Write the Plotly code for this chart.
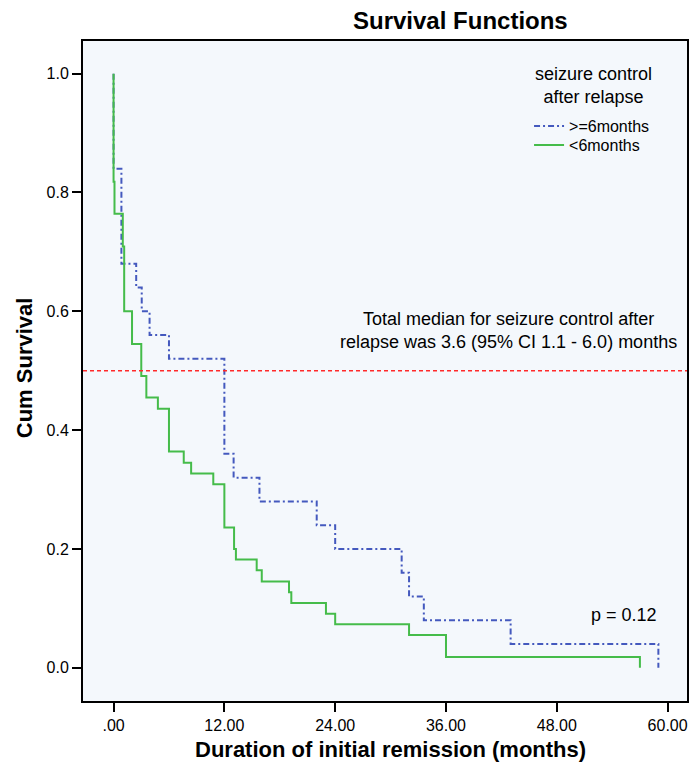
import plotly.graph_objects as go

# ---- data ----
blue_label = ">=6months"
blue_time = [0, 0, 0.85, 2.45, 3.05, 3.9, 6.0, 12.0, 13.0, 15.8, 22.0, 24.0, 31.2, 32.0, 33.6, 43.0, 59.0]
blue_surv = [1.0, 0.84, 0.68, 0.64, 0.60, 0.56, 0.52, 0.36, 0.32, 0.28, 0.24, 0.20, 0.16, 0.12, 0.08, 0.04, 0.0]

green_label = "<6months"
green_time = [0, 0, 0.1, 1.0, 1.15, 2.0, 3.0, 3.55, 4.8, 6.0, 7.6, 8.4, 10.8, 12.0, 13.05, 13.25,
              15.5, 16.05, 19.0, 19.25, 23.0, 24.0, 32.0, 36.0, 57.0]
green_surv = [1.0, 0.818, 0.764, 0.709, 0.600, 0.545, 0.491, 0.455, 0.436, 0.364, 0.345, 0.327,
              0.309, 0.236, 0.200, 0.182, 0.164, 0.145, 0.127, 0.109, 0.091, 0.073, 0.055, 0.018, 0.0]

median_level = 0.5
x_tickvals = [0, 12, 24, 36, 48, 60]
x_ticktext = [".00", "12.00", "24.00", "36.00", "48.00", "60.00"]
y_tickvals = [0.0, 0.2, 0.4, 0.6, 0.8, 1.0]
y_ticktext = ["0.0", "0.2", "0.4", "0.6", "0.8", "1.0"]

FONT = "Arial, 'Liberation Sans', sans-serif"

W, H = 689, 769
L, R, T, B = 82.7, 2, 40.7, 769 - 701.5
PW, PH = W - L - R, H - T - B


def px_x(x):
    """screen x pixel -> paper x"""
    return (x - L) / PW


def px_y(y):
    """screen y pixel -> paper y"""
    return (H - B - y) / PH


fig = go.Figure()
fig.add_trace(go.Scatter(
    x=blue_time, y=blue_surv, mode="lines", line_shape="hv", name=blue_label, legend="legend",
    line=dict(color="#4459BE", width=2, dash="6px,3px,2px,3px"),
))
fig.add_trace(go.Scatter(
    x=green_time, y=green_surv, mode="lines", line_shape="hv", name=green_label, legend="legend2",
    line=dict(color="#45BC4A", width=2),
))

fig.add_shape(type="line", xref="paper", x0=0, x1=1, yref="y", y0=median_level, y1=median_level,
              line=dict(color="#FF2A2A", width=1.5, dash="4px,3px"))

fig.add_annotation(x=42.75, y=0.567, xref="x", yref="y", showarrow=False,
                   xanchor="center", yanchor="middle",
                   text="Total median for seizure control after<br>relapse was 3.6 (95% CI 1.1 - 6.0) months",
                   font=dict(family=FONT, size=18, color="black"), align="center")
fig.add_annotation(x=55.3, y=0.089, xref="x", yref="y", showarrow=False,
                   xanchor="center", yanchor="middle",
                   text="p = 0.12", font=dict(family=FONT, size=18, color="black"))

# legend title
fig.add_annotation(x=px_x(593), y=px_y(85), xref="paper", yref="paper", showarrow=False,
                   xanchor="center", yanchor="middle",
                   text="seizure control<br>after relapse", align="center",
                   font=dict(family=FONT, size=18, color="black"))

# axis titles
fig.add_annotation(x=px_x(390), y=px_y(750), xref="paper", yref="paper", showarrow=False,
                   xanchor="center", yanchor="middle",
                   text="<b>Duration of initial remission (months)</b>",
                   font=dict(family=FONT, size=22, color="black"))
fig.add_annotation(x=px_x(25), y=px_y(368), xref="paper", yref="paper", showarrow=False,
                   xanchor="center", yanchor="middle",
                   text="<b>Cum Survival</b>", textangle=-90,
                   font=dict(family=FONT, size=22, color="black"))
# chart title
fig.add_annotation(x=px_x(460), y=px_y(20), xref="paper", yref="paper", showarrow=False,
                   xanchor="center", yanchor="middle",
                   text="<b>Survival Functions</b>",
                   font=dict(family=FONT, size=24, color="black"))

legend_common = dict(bgcolor="rgba(0,0,0,0)", itemwidth=30, xanchor="center", yanchor="top",
                     font=dict(family=FONT, size=16, color="black"))

fig.update_layout(
    width=W, height=H,
    margin=dict(l=L, r=R, t=T, b=B, autoexpand=False),
    paper_bgcolor="white", plot_bgcolor="#F4F8FC",
    font=dict(family=FONT, color="black"),
    showlegend=True,
    legend=dict(x=px_x(592), y=px_y(109), **legend_common),
    legend2=dict(x=px_x(587), y=px_y(128), **legend_common),
    xaxis=dict(
        range=[-3.31, 62.1], tickvals=x_tickvals, ticktext=x_ticktext, automargin=False,
        showgrid=False, zeroline=False, showline=True, linecolor="black", linewidth=2, mirror=True,
        ticks="outside", ticklen=9, tickwidth=2, tickcolor="black",
        tickfont=dict(family=FONT, size=16, color="black"),
    ),
    yaxis=dict(
        range=[-0.056, 1.055], tickvals=y_tickvals, ticktext=y_ticktext, automargin=False,
        showgrid=False, zeroline=False, showline=True, linecolor="black", linewidth=2, mirror=True,
        ticks="outside", ticklen=9, tickwidth=2, tickcolor="black",
        tickfont=dict(family=FONT, size=16, color="black"),
    ),
)

fig.write_html(
    "out.html",
    config={"displayModeBar": False},
    post_script="document.body.style.margin='0';document.body.style.overflow='hidden';",
)
